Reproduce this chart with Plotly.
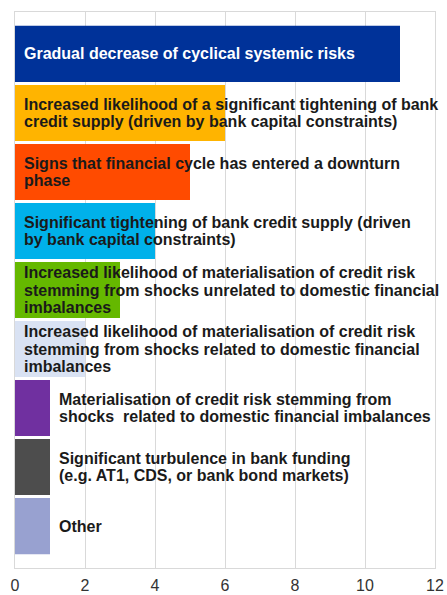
import plotly.graph_objects as go

categories = [
    "Gradual decrease of cyclical systemic risks",
    "Increased likelihood of a significant tightening of bank<br>credit supply (driven by bank capital constraints)",
    "Signs that financial cycle has entered a downturn<br>phase",
    "Significant tightening of bank credit supply (driven<br>by bank capital constraints)",
    "Increased likelihood of materialisation of credit risk<br>stemming from shocks unrelated to domestic financial<br>imbalances",
    "Increased likelihood of materialisation of credit risk<br>stemming from shocks related to domestic financial<br>imbalances",
    "Materialisation of credit risk stemming from<br>shocks  related to domestic financial imbalances",
    "Significant turbulence in bank funding<br>(e.g. AT1, CDS, or bank bond markets)",
    "Other",
]
values = [11, 6, 5, 4, 3, 2, 1, 1, 1]
colors = ["#003299", "#FFB400", "#FF4B00", "#00B1EA", "#65B800",
          "#D9E2F3", "#7030A0", "#4D4D4D", "#98A1D0"]
text_colors = ["#FFFFFF"] + ["#1A1A1A"] * 8
x_ticks = [0, 2, 4, 6, 8, 10, 12]

pos = list(range(len(categories)))
FONT = "Liberation Sans, Arial"
LINE = 17.5

fig = go.Figure()
fig.add_trace(go.Bar(
    x=values, y=pos, orientation="h",
    marker=dict(color=colors, line=dict(width=0)),
    hoverinfo="skip", showlegend=False,
))

for i, (lab, v) in enumerate(zip(categories, values)):
    anchor = 0 if v > 1 else v
    lines = lab.split("<br>")
    n = len(lines)
    for k, ln in enumerate(lines):
        fig.add_annotation(
            x=anchor, y=i, xref="x", yref="y",
            text="<b>" + ln + "</b>",
            showarrow=False, xanchor="left", yanchor="middle", align="left",
            xshift=7, yshift=((n - 1) / 2 - k) * LINE,
            font=dict(family=FONT, size=16, color=text_colors[i]),
        )

fig.update_layout(
    width=447, height=595,
    margin=dict(l=15, r=12, t=12, b=27),
    plot_bgcolor="white", paper_bgcolor="white",
    bargap=0.05,
    xaxis=dict(range=[0, 12], tickvals=x_ticks, showgrid=True, gridcolor="#D9D9D9",
               gridwidth=1, zeroline=False, showline=True, linecolor="#D9D9D9",
               mirror=True, ticks="", automargin=False, ticklabelstandoff=3,
               tickfont=dict(family=FONT, size=16, color="#333333")),
    yaxis=dict(range=[8.71, -0.71], showticklabels=False, showgrid=False, zeroline=False,
               showline=True, linecolor="#D9D9D9", mirror=True, ticks="", automargin=False),
)

fig.write_html("out.html", config={"displayModeBar": False},
               post_script="document.body.style.margin='0';document.body.style.overflow='hidden';")
